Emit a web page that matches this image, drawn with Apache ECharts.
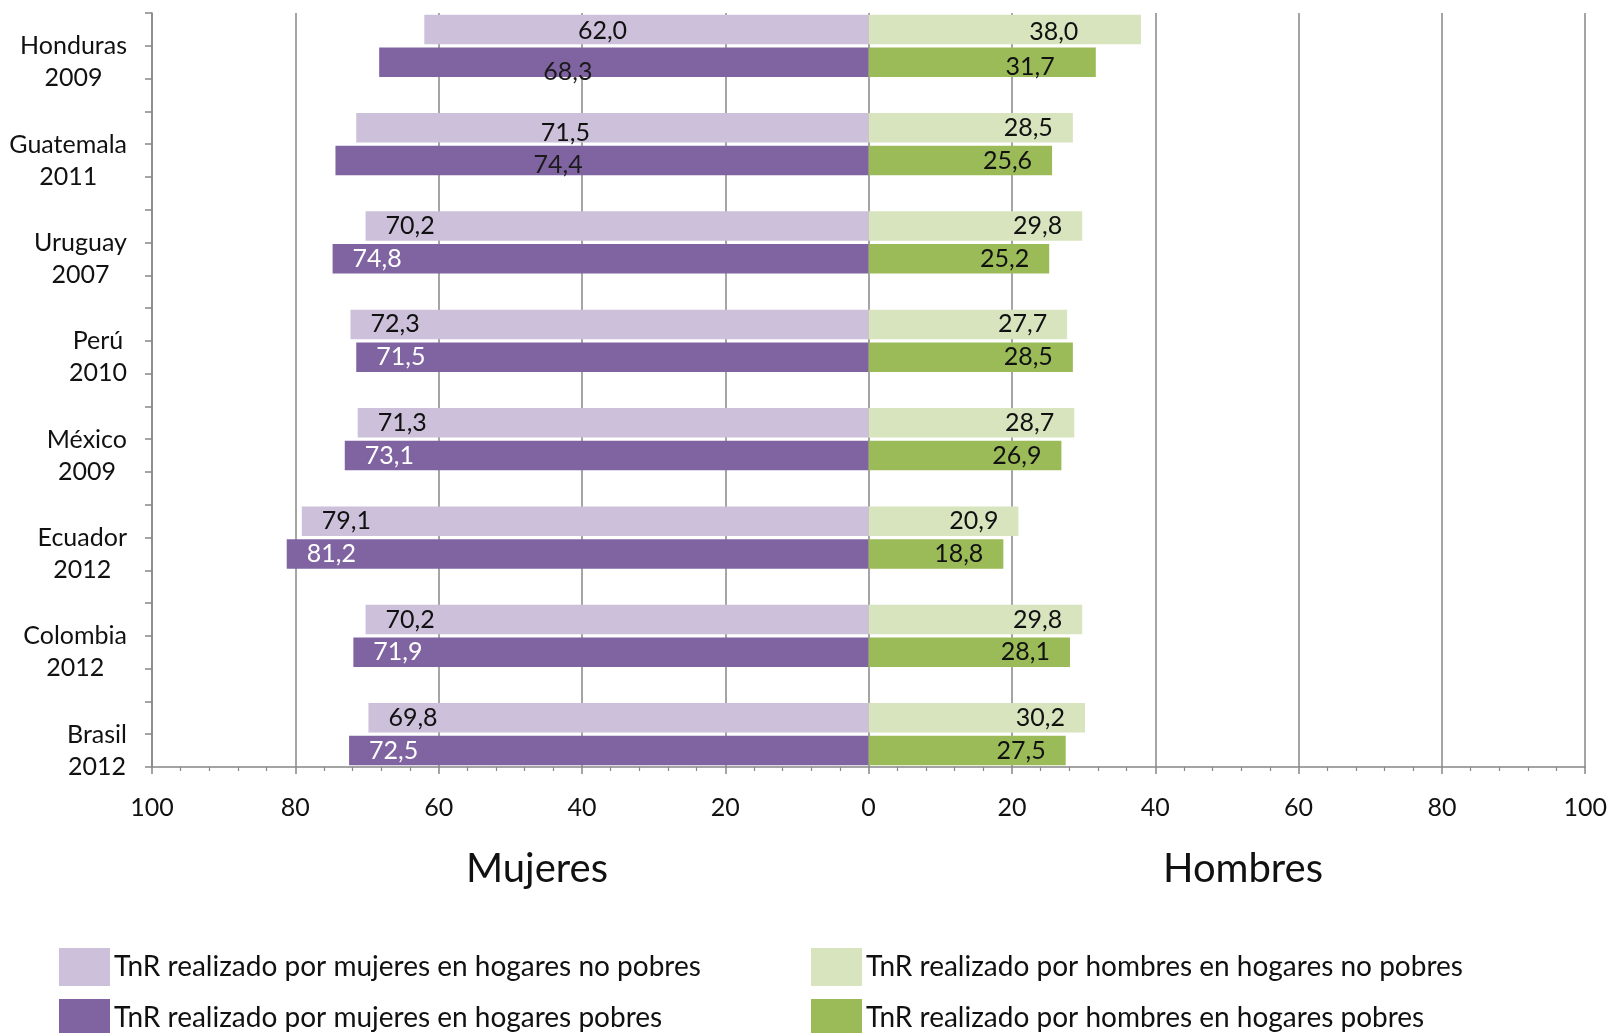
<!DOCTYPE html>
<html>
<head>
<meta charset="utf-8">
<script src="https://cdn.jsdelivr.net/npm/echarts@6/dist/echarts.min.js"></script>
<style>html,body{margin:0;padding:0;background:#fff;}#c{width:1610px;height:1033px;}</style>
</head>
<body>
<div id="c"></div>
<script>
const countries = ['Honduras', 'Guatemala', 'Uruguay', 'Perú', 'México', 'Ecuador', 'Colombia', 'Brasil'];
const years = ['2009', '2011', '2007', '2010', '2009', '2012', '2012', '2012'];
const mujeresNoPobres = [62.0, 71.5, 70.2, 72.3, 71.3, 79.1, 70.2, 69.8];
const mujeresPobres = [68.3, 74.4, 74.8, 71.5, 73.1, 81.2, 71.9, 72.5];
const hombresNoPobres = [38.0, 28.5, 29.8, 27.7, 28.7, 20.9, 29.8, 30.2];
const hombresPobres = [31.7, 25.6, 25.2, 28.5, 26.9, 18.8, 28.1, 27.5];
const seriesNames = [
  'TnR realizado por mujeres en hogares no pobres',
  'TnR realizado por mujeres en hogares pobres',
  'TnR realizado por hombres en hogares no pobres',
  'TnR realizado por hombres en hogares pobres'
];
const sideTitles = ['Mujeres', 'Hombres'];

const FONT = 'Lato';
const colors = ['#CCC0DA', '#8064A2', '#D7E4BD', '#9BBB59'];

// slots: 3 per country (no-pobres, pobres, blank), last country without blank
const nSlots = countries.length * 3 - 1;
const slotIds = [];
for (let s = 0; s < nSlots; s++) slotIds.push('s' + s);
function slotLabel(idx) {
  if (idx % 3 === 1) { const i = (idx - 1) / 3; return '{a|' + countries[i] + '}\n{a|' + years[i] + '}'; }
  return '';
}
const fmt = v => Math.abs(v).toFixed(1).replace('.', ',');

// manual label adjustments (styling only)
const overrides = {
  '0-0': { position: 'inside', offset: [-44, 2] },
  '1-0': { position: 'inside', offset: [-56, 10], color: '#1a1a1a' },
  '0-1': { position: 'inside', offset: [-47, 5] },
  '1-1': { position: 'inside', offset: [-44, 4], color: '#1a1a1a' },
  '2-0': { position: 'inside', offset: [49, 3] },
  '3-0': { position: 'inside', offset: [48, 5] }
};

function buildData(values, sign, slotOffset, sIdx) {
  const d = new Array(nSlots).fill('-');
  values.forEach((v, i) => {
    const item = { value: sign * v };
    const o = overrides[sIdx + '-' + i];
    if (o) item.label = o;
    d[i * 3 + slotOffset] = item;
  });
  return d;
}

const labelBase = { show: true, fontFamily: FONT, fontSize: 25, color: '#111', formatter: p => fmt(p.value) };
const series = [
  { values: mujeresNoPobres, sign: -1, off: 0, pos: 'insideLeft', lc: '#111' },
  { values: mujeresPobres, sign: -1, off: 1, pos: 'insideLeft', lc: '#ffffff' },
  { values: hombresNoPobres, sign: 1, off: 0, pos: 'insideRight', lc: '#111' },
  { values: hombresPobres, sign: 1, off: 1, pos: 'insideRight', lc: '#111' }
].map((s, k) => ({
  name: seriesNames[k],
  type: 'bar',
  stack: 'tot',
  barWidth: '90%',
  itemStyle: { color: colors[k] },
  label: Object.assign({}, labelBase, { position: s.pos, distance: 20, color: s.lc }),
  data: buildData(s.values, s.sign, s.off, k)
}));

const chart = echarts.init(document.getElementById('c'));
const axisGrey = '#878787';
const legendCommon = {
  orient: 'vertical', top: 948, height: 200, padding: 0,
  itemWidth: 51, itemHeight: 38, itemGap: 13, icon: 'rect',
  textStyle: { fontFamily: FONT, fontSize: 28, color: '#111', padding: [0, 0, 0, -1] }
};
chart.setOption({
  animation: false,
  backgroundColor: '#fff',
  grid: { left: 152, right: 20, top: 13, bottom: 266, containLabel: false },
  xAxis: {
    type: 'value', min: -100, max: 100, interval: 20,
    axisLine: { show: true, lineStyle: { color: axisGrey, width: 1.5 } },
    axisTick: { show: true, length: 7, lineStyle: { color: axisGrey, width: 1.5 } },
    minorTick: { show: true, splitNumber: 5, length: 4, lineStyle: { color: axisGrey, width: 1.2 } },
    splitLine: { show: true, lineStyle: { color: axisGrey, width: 1.5 } },
    axisLabel: { formatter: v => String(Math.abs(v)), fontFamily: FONT, fontSize: 25, color: '#111', margin: 28 }
  },
  yAxis: {
    type: 'category', inverse: true, data: slotIds,
    axisLine: { show: true, onZero: false, lineStyle: { color: axisGrey, width: 1.5 } },
    axisTick: { show: true, interval: 0, length: 7, lineStyle: { color: axisGrey, width: 1.5 } },
    axisLabel: {
      interval: 0, margin: 25,
      formatter: (v, idx) => slotLabel(idx),
      rich: { a: { fontFamily: FONT, fontSize: 25, color: '#111', align: 'center', lineHeight: 32 } }
    }
  },
  legend: [
    Object.assign({}, legendCommon, { left: 59, data: [seriesNames[0], seriesNames[1]] }),
    Object.assign({}, legendCommon, { left: 811, data: [seriesNames[2], seriesNames[3]] })
  ],
  graphic: [
    { type: 'text', x: 537, y: 869, style: { text: sideTitles[0], font: '40px ' + FONT, fill: '#111', textAlign: 'center', textVerticalAlign: 'middle' } },
    { type: 'text', x: 1243, y: 869, style: { text: sideTitles[1], font: '40px ' + FONT, fill: '#111', textAlign: 'center', textVerticalAlign: 'middle' } }
  ],
  series: series
});
</script>
</body>
</html>
